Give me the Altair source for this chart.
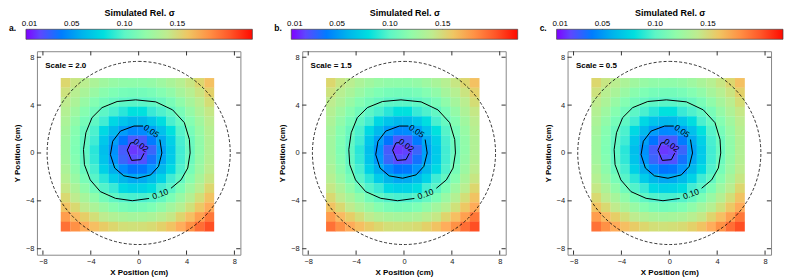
import math
import altair as alt
import pandas as pd

FONT = "Liberation Sans"

# ---------------- data ----------------
panel_labels = ["a.", "b.", "c."]
scale_texts = ["Scale = 2.0", "Scale = 1.5", "Scale = 0.5"]

# heat-map cell centres (cm); rows run top -> bottom
x_centers = [-6.1, -5.3, -4.5, -3.7, -2.9, -2.1, -1.3, -0.5, 0.3, 1.1, 1.9, 2.7, 3.5, 4.3, 5.1, 5.9]
y_centers = [5.85, 5.05, 4.25, 3.45, 2.65, 1.85, 1.05, 0.25, -0.55, -1.35, -2.15, -2.95, -3.75, -4.55, -5.35, -6.15]
cell_half = 0.41

sigma_rows = [
    [0.152, 0.144, 0.138, 0.131, 0.126, 0.122, 0.120, 0.119, 0.119, 0.121, 0.125, 0.130, 0.136, 0.144, 0.152, 0.162],
    [0.146, 0.137, 0.130, 0.123, 0.117, 0.113, 0.110, 0.109, 0.109, 0.111, 0.115, 0.120, 0.128, 0.136, 0.145, 0.155],
    [0.140, 0.131, 0.122, 0.115, 0.109, 0.104, 0.100, 0.099, 0.099, 0.101, 0.105, 0.111, 0.119, 0.128, 0.138, 0.149],
    [0.135, 0.125, 0.116, 0.108, 0.100, 0.092, 0.084, 0.081, 0.081, 0.086, 0.094, 0.102, 0.111, 0.121, 0.132, 0.143],
    [0.131, 0.120, 0.110, 0.101, 0.088, 0.076, 0.067, 0.062, 0.063, 0.069, 0.079, 0.092, 0.104, 0.115, 0.126, 0.139],
    [0.128, 0.116, 0.105, 0.093, 0.077, 0.063, 0.051, 0.044, 0.045, 0.053, 0.066, 0.081, 0.097, 0.110, 0.122, 0.136],
    [0.126, 0.114, 0.102, 0.087, 0.069, 0.052, 0.038, 0.028, 0.029, 0.040, 0.056, 0.073, 0.091, 0.106, 0.120, 0.134],
    [0.126, 0.113, 0.101, 0.084, 0.065, 0.047, 0.030, 0.015, 0.018, 0.034, 0.052, 0.070, 0.088, 0.105, 0.119, 0.134],
    [0.127, 0.115, 0.102, 0.085, 0.067, 0.049, 0.034, 0.022, 0.024, 0.037, 0.054, 0.071, 0.089, 0.106, 0.121, 0.135],
    [0.131, 0.118, 0.105, 0.090, 0.073, 0.058, 0.045, 0.038, 0.039, 0.048, 0.062, 0.077, 0.094, 0.110, 0.124, 0.139],
    [0.136, 0.123, 0.111, 0.098, 0.084, 0.071, 0.061, 0.055, 0.056, 0.063, 0.074, 0.087, 0.102, 0.116, 0.130, 0.144],
    [0.143, 0.131, 0.119, 0.108, 0.096, 0.086, 0.077, 0.073, 0.074, 0.079, 0.088, 0.099, 0.112, 0.125, 0.138, 0.152],
    [0.151, 0.140, 0.129, 0.119, 0.109, 0.101, 0.095, 0.092, 0.092, 0.096, 0.103, 0.112, 0.123, 0.135, 0.148, 0.161],
    [0.161, 0.151, 0.141, 0.131, 0.123, 0.116, 0.111, 0.109, 0.110, 0.113, 0.119, 0.127, 0.136, 0.147, 0.159, 0.171],
    [0.176, 0.165, 0.156, 0.148, 0.140, 0.134, 0.130, 0.128, 0.129, 0.131, 0.137, 0.143, 0.153, 0.163, 0.175, 0.188],
    [0.190, 0.180, 0.171, 0.163, 0.157, 0.152, 0.148, 0.147, 0.148, 0.150, 0.155, 0.161, 0.170, 0.180, 0.191, 0.203],
]

# contour lines (cm), open where the inline labels sit
c010_x = [2.70, 3.54, 4.10, 4.30, 4.24, 3.82, 2.84, 1.43, -0.25, -1.80, -3.06, -3.90, -4.41, -4.61, -4.53, -4.05, -3.20, -1.94, -0.53, 0.87]
c010_y = [-2.95, -2.25, -1.26, 0.00, 1.12, 2.53, 3.60, 4.27, 4.44, 4.30, 3.79, 2.95, 1.69, 0.28, -0.98, -2.25, -3.23, -3.79, -3.99, -3.80]
c005_x = [1.77, 1.94, 1.66, 1.01, -0.11, -1.24, -2.00, -2.36, -2.17, -1.52, -0.39, 0.37]
c005_y = [1.12, 0.00, -1.12, -1.83, -2.11, -1.91, -1.26, -0.14, 0.98, 1.83, 2.25, 2.25]
c002_x = [-0.40, -0.67, -0.95, -0.59, 0.17, 0.45]
c002_y = [0.87, 0.84, 0.23, -0.62, -0.56, -0.02]

clabel_text = ["0.02", "0.05", "0.10"]
clabel_x = [0.20, 1.07, 1.80]
clabel_y = [0.65, 1.83, -3.42]
clabel_angle = [37, 35, 340]

circle_radius = 7.65
axis_ticks = [-8, -4, 0, 4, 8]
cbar_ticks = [0.01, 0.05, 0.10, 0.15]
sigma_min, sigma_max = 0.0066, 0.221
cmap_colors = ["#8000ff", "#4062fa", "#00b4ec", "#40ecd4", "#80ffb4",
               "#bfec8e", "#ffb462", "#ff6232", "#ff0000"]

# ---------------- tables ----------------
heat_rows = []
for j, yc in enumerate(y_centers):
    for i, xc in enumerate(x_centers):
        heat_rows.append({"x0": xc - cell_half, "x1": xc + cell_half,
                          "y0": yc - cell_half, "y1": yc + cell_half,
                          "sigma": sigma_rows[j][i]})
heat_df = pd.DataFrame(heat_rows)

cont_rows = []
for lvl, xs, ys in [("0.10", c010_x, c010_y), ("0.05", c005_x, c005_y), ("0.02", c002_x, c002_y)]:
    for k, (xv, yv) in enumerate(zip(xs, ys)):
        cont_rows.append({"level": lvl, "order": k, "x": xv, "y": yv})
cont_df = pd.DataFrame(cont_rows)

clab_df = pd.DataFrame({"x": clabel_x, "y": clabel_y, "t": clabel_text, "a": clabel_angle})
circle_df = pd.DataFrame({"cx": [0.0], "cy": [0.0], "r": [circle_radius]})
cbt_df = pd.DataFrame({"v": cbar_ticks})

LIM = 8.5
TL = 0.35
tick_rows = []
for t in axis_ticks:
    tick_rows.append({"x": t, "x2": t, "y": -LIM, "y2": -LIM + TL})
    tick_rows.append({"x": t, "x2": t, "y": LIM, "y2": LIM - TL})
    tick_rows.append({"x": -LIM, "x2": -LIM + TL, "y": t, "y2": t})
    tick_rows.append({"x": LIM, "x2": LIM - TL, "y": t, "y2": t})
tick_df = pd.DataFrame(tick_rows)

cmap_values = [sigma_min + k * (sigma_max - sigma_min) / (len(cmap_colors) - 1)
               for k in range(len(cmap_colors))]

W = 204
CB_LEFT, CB_LEN = -11, 227     # colour-bar placement relative to the plot frame (px)
CB_TOP = -22
xscale = alt.Scale(domain=[-LIM, LIM], nice=False, zero=False)
yscale = alt.Scale(domain=[-LIM, LIM], nice=False, zero=False)
xaxis = alt.Axis(title="X Position (cm)", values=axis_ticks, domain=False, ticks=False,
                 grid=False, labelPadding=3, titlePadding=3)
yaxis = alt.Axis(title="Y Position (cm)", values=axis_ticks, domain=False, ticks=False,
                 grid=False, labelPadding=3, titlePadding=4)


def panel(label, stext):
    heat = alt.Chart(heat_df).mark_rect(strokeWidth=0).encode(
        x=alt.X("x0:Q", scale=xscale, axis=xaxis),
        x2="x1:Q",
        y=alt.Y("y0:Q", scale=yscale, axis=yaxis),
        y2="y1:Q",
        color=alt.Color(
            "sigma:Q",
            scale=alt.Scale(domain=cmap_values, range=cmap_colors),
            legend=alt.Legend(
                orient="none", legendX=CB_LEFT, legendY=-42, direction="horizontal",
                title="Simulated Rel. σ", titleFont=FONT, titleFontSize=9,
                titleFontWeight="bold", titleColor="black", titleAnchor="middle",
                titlePadding=11, gradientLength=CB_LEN, gradientThickness=10,
                gradientStrokeColor="#444444", gradientStrokeWidth=0.7,
                values=cbar_ticks, format=".2f", labelOffset=alt.ExprRef(expr="-19.5"),
                labelFont=FONT, labelFontSize=8, labelColor="black", padding=0,
            ),
        ),
    )
    circle = alt.Chart(circle_df).mark_arc(
        filled=False, stroke="black", strokeWidth=0.8, strokeDash=[3, 2],
        theta=0, theta2=2 * math.pi,
    ).encode(
        x=alt.X("cx:Q", scale=xscale, axis=xaxis),
        y=alt.Y("cy:Q", scale=yscale, axis=yaxis),
        radius=alt.Radius("r:Q", scale=alt.Scale(type="linear", domain=[0, LIM], range=[0, W / 2], zero=True)),
    )
    lines = alt.Chart(cont_df).mark_line(color="black", strokeWidth=1).encode(
        x=alt.X("x:Q", scale=xscale, axis=xaxis),
        y=alt.Y("y:Q", scale=yscale, axis=yaxis),
        detail="level:N",
        order="order:Q",
    )
    labels = alt.Chart(clab_df).mark_text(font=FONT, fontSize=8.5, color="black",
                                          align="center", baseline="middle").encode(
        x=alt.X("x:Q", scale=xscale, axis=xaxis),
        y=alt.Y("y:Q", scale=yscale, axis=yaxis),
        text="t:N",
        angle=alt.Angle("a:Q", scale=None),
    )
    ticks = alt.Chart(tick_df).mark_rule(color="#333333", strokeWidth=1).encode(
        x=alt.X("x:Q", scale=xscale, axis=xaxis),
        x2="x2:Q",
        y=alt.Y("y:Q", scale=yscale, axis=yaxis),
        y2="y2:Q",
    )
    stxt = alt.Chart(pd.DataFrame({"x": [-7.8], "y": [7.3], "t": [stext]})).mark_text(
        font=FONT, fontSize=8, fontWeight="bold", color="black", align="left", baseline="middle"
    ).encode(
        x=alt.X("x:Q", scale=xscale, axis=xaxis),
        y=alt.Y("y:Q", scale=yscale, axis=yaxis),
        text="t:N",
    )
    ptxt = alt.Chart(pd.DataFrame({"t": [label]})).mark_text(
        font=FONT, fontSize=8.5, fontWeight="bold", color="black", align="left", baseline="middle"
    ).encode(x=alt.value(-28), y=alt.value(-23), text="t:N")
    main = alt.layer(heat, circle, lines, labels, ticks, stxt, ptxt)

    # short inward ticks on the colour bar, placed by a scale spanning the bar
    cbt = alt.Chart(cbt_df).mark_rule(color="#333333", strokeWidth=1).encode(
        x=alt.X("v:Q", axis=None,
                scale=alt.Scale(domain=[sigma_min, sigma_max], range=[CB_LEFT, CB_LEFT + CB_LEN],
                                nice=False, zero=False)),
        y=alt.value(CB_TOP),
        y2=alt.value(CB_TOP + 2.5),
    )
    return alt.layer(main, cbt).resolve_scale(x="independent").properties(width=W, height=W)


chart = alt.hconcat(
    *[panel(l, s) for l, s in zip(panel_labels, scale_texts)],
    spacing=62, bounds="flush",
).resolve_scale(color="independent").properties(
    padding={"left": 0, "top": 0, "right": 0, "bottom": 0}
).configure_view(
    stroke="#888888", strokeWidth=1
).configure_axis(
    labelFont=FONT, labelFontSize=7.5, labelColor="#222222",
    titleFont=FONT, titleFontSize=8, titleFontWeight="bold", titleColor="black",
)

chart.save("out.html", embed_options={"renderer": "svg", "actions": False})
